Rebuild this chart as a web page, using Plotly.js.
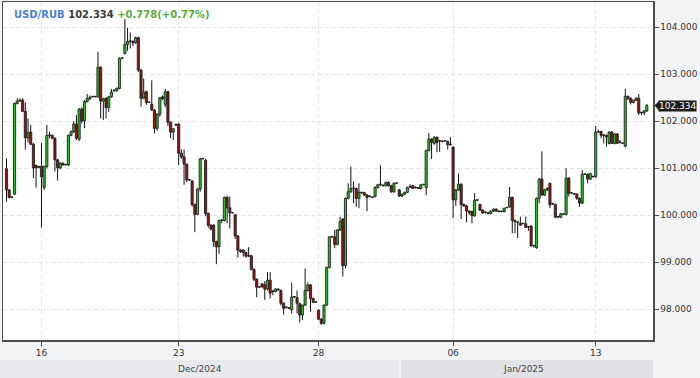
<!DOCTYPE html>
<html><head><meta charset="utf-8">
<script src="https://cdn.plot.ly/plotly-3.0.1.min.js"></script>
<style>html,body{margin:0;padding:0;background:#f2f3f5;}#chart{width:700px;height:378px;}</style>
</head><body><div id="chart"></div>
<script>
const symbol = 'USD/RUB';
const lastPrice = 102.334;
const changeAbs = 0.778;
const changePct = 0.77;

const opens = [100.99,100.54,100.38,100.45,102.38,102.43,102.45,102.21,101.65,101.77,101.51,101.06,101.02,101.04,100.59,101.04,101.70,101.70,101.64,101.18,101.01,101.11,101.07,101.07,101.70,101.78,101.94,101.62,102.26,102.01,102.42,102.48,102.52,102.52,102.52,103.15,102.43,102.49,102.29,102.52,102.65,102.65,102.70,103.34,103.44,103.64,103.70,103.70,103.67,103.78,103.09,102.49,102.63,102.40,102.36,102.24,101.85,102.15,102.52,102.36,102.63,101.98,101.77,101.92,101.94,101.32,101.24,101.09,100.75,100.73,100.23,100.02,100.56,101.20,101.17,100.04,99.79,99.79,99.44,99.33,99.89,99.89,100.38,100.16,100.05,100.01,99.56,99.26,99.26,99.21,99.13,99.14,98.85,98.64,98.47,98.54,98.52,98.43,98.62,98.38,98.38,98.41,98.40,98.13,98.04,98.02,97.99,98.26,98.25,98.12,97.88,98.09,98.40,98.52,98.23,98.15,97.98,97.79,97.70,98.09,98.89,99.54,99.54,99.38,99.69,99.92,98.93,100.36,100.50,100.57,100.57,100.36,100.48,100.48,100.43,100.40,100.38,100.40,100.59,100.65,100.63,100.63,100.70,100.63,100.50,100.68,100.54,100.41,100.45,100.49,100.60,100.63,100.59,100.59,100.57,100.65,100.59,101.38,101.62,101.53,101.66,101.58,101.57,101.58,101.57,101.50,101.45,100.33,100.54,100.66,100.23,100.20,100.09,100.08,99.99,100.32,100.23,100.11,100.06,100.05,100.04,100.09,100.13,100.09,100.08,100.08,100.16,100.18,100.38,99.89,99.85,99.83,99.82,99.82,99.75,99.77,99.35,99.31,100.36,100.77,100.43,100.54,100.68,100.24,100.23,99.96,99.96,100.02,100.02,100.79,100.47,100.45,100.45,100.36,100.26,100.87,100.87,100.77,100.82,100.82,101.77,101.78,101.70,101.70,101.53,101.77,101.53,101.73,101.55,101.53,101.47,102.53,102.49,102.40,102.45,102.49,102.18,102.18,102.22];
const highs = [101.21,100.56,100.40,102.40,102.49,102.49,102.49,102.40,102.06,101.92,101.54,101.08,101.05,101.54,101.06,101.92,101.78,101.72,101.66,101.20,101.13,101.12,101.08,101.72,101.80,102.00,102.13,102.28,102.30,102.45,102.58,102.55,102.53,102.53,103.48,103.17,102.50,102.51,102.54,102.69,102.68,102.72,103.36,103.35,104.18,103.99,103.89,103.72,103.80,103.80,103.11,102.91,102.65,102.41,102.87,102.26,102.17,102.52,102.55,102.69,102.65,102.00,101.85,101.95,101.96,101.40,101.40,101.10,100.77,100.75,100.25,100.58,101.22,101.21,101.20,100.06,99.81,99.81,99.46,99.91,99.92,100.40,100.42,100.40,100.06,100.03,99.58,99.28,99.28,99.23,99.32,99.16,98.87,98.66,98.48,98.56,98.60,98.79,98.79,98.40,98.45,98.45,98.42,98.15,98.06,98.04,98.57,98.28,98.40,98.14,98.10,98.87,98.57,98.54,98.25,98.16,98.00,97.81,98.10,98.91,99.56,99.56,99.69,99.70,99.97,99.94,100.38,100.68,101.04,100.72,100.59,100.68,100.50,100.50,100.45,100.42,100.40,100.62,100.67,101.06,100.65,100.72,100.72,100.65,100.70,100.69,100.56,100.46,100.50,100.61,100.66,100.65,100.61,100.60,100.66,100.66,101.40,101.75,101.64,101.68,101.68,101.60,101.59,101.59,101.59,101.66,101.47,100.56,100.89,100.68,100.25,100.22,100.10,100.10,100.47,100.33,100.25,100.13,100.08,100.07,100.10,100.15,100.15,100.10,100.10,100.16,100.17,100.60,100.40,99.91,99.87,99.97,99.83,99.97,99.77,99.79,99.36,100.38,100.79,101.36,100.56,100.60,100.70,100.26,100.25,99.98,100.05,100.04,101.00,100.81,100.49,100.47,100.47,100.38,100.96,100.88,100.89,100.90,100.84,101.90,101.82,101.80,101.72,101.72,101.79,101.79,101.75,101.75,101.60,101.54,102.69,102.55,102.51,102.46,102.51,102.58,102.20,102.24,102.37];
const lows = [100.29,100.36,100.37,100.43,102.36,102.42,102.20,101.40,101.55,101.50,100.79,100.59,101.00,99.74,100.54,101.00,101.64,101.62,100.93,100.74,100.98,101.06,101.06,101.05,101.68,101.75,101.60,101.58,101.95,101.85,102.40,102.45,102.51,102.51,102.50,102.06,102.03,102.06,102.20,102.50,102.62,102.63,102.68,103.33,103.42,103.50,103.55,103.60,103.65,103.05,102.31,102.47,102.35,102.39,102.22,101.74,101.80,102.10,102.45,102.30,101.90,101.64,101.60,101.90,101.07,101.20,100.65,100.70,100.73,100.18,99.64,100.00,100.50,101.19,99.98,99.74,99.68,99.33,98.96,99.18,99.83,99.87,99.83,99.72,100.04,99.50,99.10,99.20,99.12,99.10,99.11,98.83,98.60,98.26,98.46,98.46,98.20,98.40,98.23,98.30,98.36,98.39,98.08,97.89,98.02,98.00,97.91,98.24,97.91,97.72,97.77,98.07,98.38,97.95,98.13,98.14,97.77,97.67,97.68,98.07,98.87,99.52,99.30,99.36,99.67,98.70,98.87,100.34,100.48,100.26,100.18,100.15,100.46,100.41,100.09,100.38,100.37,100.38,100.57,100.63,100.61,100.61,100.61,100.48,100.48,100.67,100.39,100.39,100.43,100.47,100.58,100.56,100.57,100.56,100.55,100.64,100.43,101.36,101.20,101.50,101.34,101.35,101.55,101.57,101.40,101.48,99.94,100.20,100.52,99.92,100.18,99.85,100.01,99.83,99.97,100.31,100.09,100.03,100.04,100.02,100.02,100.07,100.08,100.06,100.06,100.06,100.15,100.16,99.62,99.62,99.52,99.78,99.81,99.73,99.67,99.33,99.31,99.29,100.26,100.42,100.41,100.52,100.15,100.22,99.94,99.94,99.94,100.01,100.00,100.40,100.45,100.44,100.33,100.18,100.24,100.86,100.68,100.75,100.80,100.80,101.75,101.64,101.53,101.46,101.51,101.52,101.51,101.52,101.53,101.52,101.45,102.45,102.36,102.38,102.43,102.13,102.13,102.13,102.20];
const closes = [100.54,100.38,100.38,102.38,102.43,102.45,102.21,101.65,101.76,101.51,101.01,101.01,101.04,100.82,101.04,101.70,101.70,101.64,101.18,101.01,101.11,101.07,101.07,101.70,101.78,101.94,101.64,102.26,102.01,102.42,102.48,102.51,102.52,102.52,103.15,102.43,102.48,102.29,102.52,102.62,102.65,102.70,103.34,103.34,103.64,103.70,103.70,103.67,103.78,103.09,102.49,102.62,102.40,102.40,102.24,101.85,102.15,102.50,102.48,102.63,101.98,101.77,101.84,101.92,101.32,101.24,101.09,100.75,100.75,100.23,100.02,100.56,101.20,101.20,100.04,99.79,99.71,99.44,99.33,99.89,99.89,100.38,100.16,100.05,100.05,99.56,99.26,99.23,99.21,99.13,99.13,98.85,98.64,98.47,98.47,98.48,98.43,98.62,98.34,98.38,98.43,98.43,98.13,98.02,98.04,98.02,98.26,98.26,98.13,97.88,98.09,98.40,98.52,98.23,98.15,98.15,97.79,97.70,98.09,98.89,99.54,99.54,99.38,99.69,99.87,98.93,100.36,100.50,100.57,100.57,100.36,100.49,100.48,100.43,100.38,100.40,100.38,100.59,100.65,100.65,100.63,100.70,100.63,100.50,100.68,100.68,100.41,100.45,100.49,100.59,100.60,100.57,100.59,100.57,100.65,100.65,101.38,101.62,101.55,101.66,101.55,101.58,101.57,101.58,101.50,101.50,100.33,100.54,100.66,100.23,100.20,100.09,100.06,99.99,100.32,100.32,100.11,100.05,100.06,100.04,100.09,100.13,100.09,100.08,100.08,100.15,100.16,100.38,99.89,99.87,99.85,99.79,99.82,99.74,99.75,99.35,99.35,100.36,100.77,100.43,100.54,100.57,100.22,100.24,99.96,99.96,100.03,100.02,100.79,100.47,100.47,100.45,100.36,100.26,100.87,100.87,100.77,100.89,100.82,101.77,101.77,101.70,101.70,101.67,101.77,101.53,101.73,101.53,101.55,101.53,102.53,102.49,102.40,102.45,102.49,102.18,102.18,102.22,102.334];

const tickIndex = [13, 64, 116, 166, 219];
const tickLabels = ['16', '23', '28', '06', '13'];
const yTicks = [98, 99, 100, 101, 102, 103, 104];
const monthLabels = ['Dec/2024', 'Jan/2025'];

const idx = opens.map((_, i) => i);
const yRange = [97.347, 104.538];
const xRange = [-1.3, 240.3];
const UP = '#27c427', DOWN = '#961616', EDGE = '#111111';
const MIN_BODY = 0.012;

// bodies (bars) built from open/close
const bodyTop = idx.map(i => Math.max(opens[i], closes[i]));
const bodyBot = idx.map(i => Math.min(opens[i], closes[i]));
const bodyLen = idx.map(i => Math.max(bodyTop[i] - bodyBot[i], MIN_BODY));
const bodyCol = idx.map(i => closes[i] >= opens[i] ? UP : DOWN);

// wicks: upper (high to body top) and lower (body bottom to low)
const wx = [], wy = [];
idx.forEach(i => {
  wx.push(i, i, null, i, i, null);
  wy.push(highs[i], bodyTop[i], null, bodyBot[i], lows[i], null);
});

const FONT = 'DejaVu Sans, sans-serif';
const wicks = {
  type: 'scatter', mode: 'lines', x: wx, y: wy, connectgaps: false,
  line: {color: EDGE, width: 1}, hoverinfo: 'skip', showlegend: false
};
const bodies = {
  type: 'bar', x: idx, base: bodyBot, y: bodyLen, width: 0.8,
  marker: {color: bodyCol, line: {color: EDGE, width: 0.8}},
  hoverinfo: 'skip', showlegend: false
};

const pricePaperY = (lastPrice - yRange[0]) / (yRange[1] - yRange[0]);
const plotH = 338, plotW = 650;
const halfTag = 4.6 / plotH;

const layout = {
  width: 700, height: 378,
  margin: {l: 3, r: 47, t: 2, b: 38},
  paper_bgcolor: '#f2f3f5',
  plot_bgcolor: '#ffffff',
  barmode: 'overlay',
  font: {family: FONT, size: 9, color: '#333'},
  xaxis: {
    range: xRange,
    tickvals: tickIndex, ticktext: tickLabels,
    showgrid: true, gridcolor: '#e4e4e4', griddash: '4px,3px', gridwidth: 1,
    showline: true, mirror: true, linecolor: '#4d4d4d', linewidth: 1.5,
    ticks: 'outside', ticklen: 4, tickcolor: '#4d4d4d',
    tickfont: {family: FONT, size: 9, color: '#333'},
    zeroline: false, fixedrange: true
  },
  yaxis: {
    side: 'right', range: yRange, tickvals: yTicks, tickformat: '.3f',
    showgrid: true, gridcolor: '#e4e4e4', griddash: '4px,3px', gridwidth: 1,
    showline: true, mirror: true, linecolor: '#4d4d4d', linewidth: 1.5,
    ticks: 'outside', ticklen: 4, tickcolor: '#4d4d4d',
    tickfont: {family: FONT, size: 9, color: '#333'},
    zeroline: false, fixedrange: true
  },
  shapes: [
    {type: 'rect', xref: 'paper', yref: 'paper', x0: -3/plotW, x1: 396/plotW, y0: -20/plotH, y1: -38/plotH,
     fillcolor: '#e8e9ec', line: {width: 0}, layer: 'below'},
    {type: 'rect', xref: 'paper', yref: 'paper', x0: 398/plotW, x1: 1, y0: -20/plotH, y1: -38/plotH,
     fillcolor: '#e1e2e5', line: {width: 0}, layer: 'below'},
    {type: 'path', xref: 'paper', yref: 'paper', layer: 'above',
     path: 'M ' + (1 + 1.5/plotW) + ',' + pricePaperY + ' L ' + (1 + 6/plotW) + ',' + (pricePaperY + halfTag) +
           ' L ' + (1 + 6/plotW) + ',' + (pricePaperY - halfTag) + ' Z',
     fillcolor: '#1e1e1e', line: {width: 0}}
  ],
  annotations: [
    {xref: 'paper', yref: 'paper', x: 0, y: 1, xanchor: 'left', yanchor: 'top', xshift: 9, yshift: -5,
     showarrow: false, font: {family: FONT, size: 10},
     text: '<b><span style="color:#4a7fd6">' + symbol + '</span> <span style="color:#3a3a3a">' + lastPrice.toFixed(3) +
           '</span> <span style="color:#5aab3a">+' + changeAbs.toFixed(3) + '(+' + changePct.toFixed(2) + '%)</span></b>'},
    {xref: 'paper', yref: 'y', x: 1, y: lastPrice, xanchor: 'left', yanchor: 'middle', xshift: 5,
     showarrow: false, bgcolor: '#1e1e1e', borderpad: 0, font: {family: FONT, size: 9, color: '#ffffff'},
     text: lastPrice.toFixed(3)},
    {xref: 'paper', yref: 'paper', x: 197/plotW, y: -29/plotH, xanchor: 'center', yanchor: 'middle',
     showarrow: false, font: {family: FONT, size: 9, color: '#444'}, text: monthLabels[0]},
    {xref: 'paper', yref: 'paper', x: 520/plotW, y: -29/plotH, xanchor: 'center', yanchor: 'middle',
     showarrow: false, font: {family: FONT, size: 9, color: '#444'}, text: monthLabels[1]}
  ]
};

Plotly.newPlot('chart', [bodies, wicks], layout, {displayModeBar: false, staticPlot: true});
</script>
</body></html>
